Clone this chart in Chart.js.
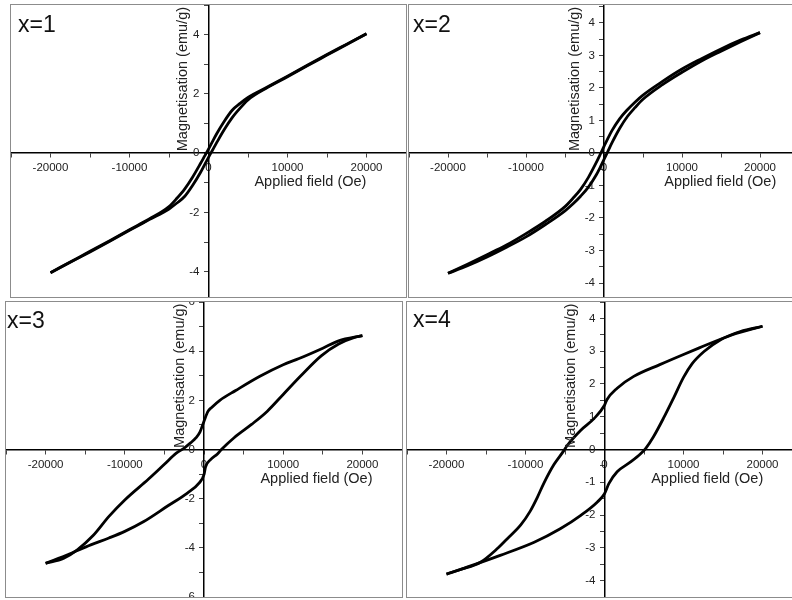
<!DOCTYPE html>
<html>
<head>
<meta charset="utf-8">
<script src="https://cdn.jsdelivr.net/npm/chart.js@4"></script>
<style>
  html, body { margin: 0; padding: 0; background: #fff; }
  body { width: 792px; height: 600px; position: relative; overflow: hidden; }
  .panel { position: absolute; border: 1px solid #8c8c8c; background: #fff; }
  .panel canvas { display: block; }
</style>
</head>
<body>
<div class="panel" style="left:10px;top:4px;"><canvas id="c1" width="395" height="292"></canvas></div>
<div class="panel" style="left:408px;top:4px;"><canvas id="c2" width="390" height="292"></canvas></div>
<div class="panel" style="left:5px;top:301px;"><canvas id="c3" width="396" height="295"></canvas></div>
<div class="panel" style="left:406px;top:301px;"><canvas id="c4" width="395" height="295"></canvas></div>
<script>
// field axis, same for all four loops
const fieldTicks = [-25000, -20000, -15000, -10000, -5000, 0, 5000, 10000, 15000, 20000, 25000];
const fieldLabels = [-20000, -10000, 0, 10000, 20000];

// x=1
const h1Down = [20000, 17500, 15000, 12500, 10000, 7500, 5000, 4000, 3000, 2000, 1000, 500, 0, -500, -1000, -2000, -3000, -4000, -5000, -7500, -10000, -12500, -15000, -17500, -20000];
const m1Down = [4.03, 3.68, 3.33, 2.97, 2.6, 2.24, 1.88, 1.68, 1.45, 1.08, 0.64, 0.39, 0.14, -0.1, -0.34, -0.8, -1.2, -1.52, -1.8, -2.22, -2.58, -2.95, -3.31, -3.67, -4.03];
const h1Up = [-20000, -17500, -15000, -12500, -10000, -7500, -5000, -4000, -3000, -2000, -1000, -500, 0, 500, 1000, 2000, 3000, 4000, 5000, 7500, 10000, 12500, 15000, 17500, 20000];
const m1Up = [-4.03, -3.68, -3.33, -2.97, -2.6, -2.24, -1.88, -1.68, -1.45, -1.08, -0.64, -0.39, -0.14, 0.1, 0.34, 0.8, 1.2, 1.52, 1.8, 2.22, 2.58, 2.95, 3.31, 3.67, 4.03];
const m1Ticks = [-4, -3, -2, -1, 0, 1, 2, 3, 4, 5];
const m1Labels = [-4, -2, 0, 2, 4];

// x=2
const h2Down = [20000, 17500, 15000, 12500, 10000, 7500, 5000, 4000, 3000, 2000, 1000, 500, 0, -500, -1000, -2000, -3000, -4000, -5000, -7500, -10000, -12500, -15000, -17500, -20000];
const m2Down = [3.7, 3.47, 3.2, 2.9, 2.58, 2.2, 1.78, 1.57, 1.33, 1.05, 0.68, 0.45, 0.2, -0.05, -0.3, -0.75, -1.12, -1.4, -1.65, -2.1, -2.48, -2.83, -3.13, -3.42, -3.7];
const h2Up = [-20000, -17500, -15000, -12500, -10000, -7500, -5000, -4000, -3000, -2000, -1000, -500, 0, 500, 1000, 2000, 3000, 4000, 5000, 7500, 10000, 12500, 15000, 17500, 20000];
const m2Up = [-3.7, -3.47, -3.2, -2.9, -2.58, -2.2, -1.78, -1.57, -1.33, -1.05, -0.68, -0.45, -0.2, 0.05, 0.3, 0.75, 1.12, 1.4, 1.65, 2.1, 2.48, 2.83, 3.13, 3.42, 3.7];
const m2Ticks = [-4, -3.5, -3, -2.5, -2, -1.5, -1, -0.5, 0, 0.5, 1, 1.5, 2, 2.5, 3, 3.5, 4, 4.5];
const m2Labels = [-4, -3, -2, -1, 0, 1, 2, 3, 4];

// x=3
const h3Down = [20000, 17000, 15000, 12000, 10000, 7000, 4000, 2000, 1000, 500, 0, -500, -1000, -1700, -2500, -3500, -5000, -7000, -10000, -12000, -14000, -16000, -17700, -20000];
const m3Down = [4.63, 4.42, 4.12, 3.7, 3.45, 2.97, 2.4, 2.0, 1.72, 1.55, 1.15, 0.72, 0.48, 0.27, 0.06, -0.15, -0.6, -1.2, -2.05, -2.72, -3.5, -4.08, -4.42, -4.63];
const h3Up = [-20000, -17000, -14300, -12000, -10000, -7600, -4600, -2100, -600, 0, 200, 800, 1700, 2200, 3800, 6000, 8000, 10000, 12200, 14800, 17000, 19000, 20000];
const m3Up = [-4.63, -4.25, -3.88, -3.6, -3.33, -2.93, -2.3, -1.77, -1.36, -1.02, -0.7, -0.42, -0.18, 0, 0.48, 1.02, 1.56, 2.24, 2.99, 3.81, 4.29, 4.56, 4.63];
const m3Ticks = [-6, -5, -4, -3, -2, -1, 0, 1, 2, 3, 4, 5, 6];
const m3Labels = [-6, -4, -2, 0, 2, 4, 6];

// x=4
const h4Down = [20000, 16200, 12000, 10000, 7000, 3700, 1600, 300, 0, -1300, -3000, -4700, -5100, -6400, -7700, -8500, -9400, -10600, -12300, -13600, -15700, -18200, -20000];
const m4Down = [3.76, 3.5, 3.1, 2.9, 2.59, 2.23, 1.87, 1.52, 1.35, 0.95, 0.59, 0.13, -0.02, -0.46, -1.04, -1.46, -1.88, -2.3, -2.72, -3.03, -3.44, -3.66, -3.8];
const h4Up = [-20000, -17400, -13200, -8900, -5600, -3000, -900, 0, 550, 1600, 3300, 4600, 5200, 6200, 7500, 8800, 10000, 11100, 12600, 14700, 17200, 20000];
const m4Up = [-3.8, -3.59, -3.23, -2.83, -2.42, -2.01, -1.6, -1.35, -1.04, -0.68, -0.38, -0.12, 0.03, 0.39, 0.97, 1.6, 2.2, 2.62, 2.99, 3.35, 3.6, 3.76];
const m4Ticks = [-4.5, -4, -3.5, -3, -2.5, -2, -1.5, -1, -0.5, 0, 0.5, 1, 1.5, 2, 2.5, 3, 3.5, 4, 4.5];
const m4Labels = [-4, -3, -2, -1, 0, 1, 2, 3, 4];

const FONT = '"Liberation Sans", Arial, sans-serif';

function pts(h, m) {
  return h.map((v, i) => ({x: v, y: m[i]}));
}

function noPad(s) {
  s.paddingLeft = 0; s.paddingRight = 0; s.paddingTop = 0; s.paddingBottom = 0;
}

// axis titles and the x=N label sit inside the plot, so draw them here
const titles = {
  id: 'titles',
  afterDraw(chart, args, o) {
    const {ctx, chartArea} = chart;
    const x0 = chart.scales.x.getPixelForValue(0);
    const y0 = chart.scales.y.getPixelForValue(0);
    ctx.save();
    ctx.fillStyle = '#222';
    ctx.font = '14.5px ' + FONT;
    ctx.textAlign = 'center';
    ctx.textBaseline = 'middle';
    ctx.fillText('Applied field (Oe)', chart.scales.x.getPixelForValue(o.xTitleAt), y0 + 29);
    ctx.translate(x0 - o.yTitleGap, (chartArea.top + y0) / 2);
    ctx.rotate(-Math.PI / 2);
    ctx.fillText('Magnetisation (emu/g)', 0, 0);
    ctx.restore();
    ctx.save();
    ctx.fillStyle = '#111';
    ctx.font = '23px ' + FONT;
    ctx.textAlign = 'left';
    ctx.textBaseline = 'alphabetic';
    ctx.fillText(o.label, chartArea.left + o.labelDx, chartArea.top + o.labelDy);
    ctx.restore();
  }
};

function makeChart(id, c) {
  const line = {borderColor: '#000', borderWidth: 2.8, pointRadius: 0, showLine: true, fill: false,
    cubicInterpolationMode: 'monotone'};
  return new Chart(document.getElementById(id), {
    type: 'scatter',
    data: {
      datasets: [
        Object.assign({data: pts(c.hDown, c.mDown)}, line),
        Object.assign({data: pts(c.hUp, c.mUp)}, line)
      ]
    },
    options: {
      responsive: false,
      animation: false,
      devicePixelRatio: 1,
      layout: {padding: 0},
      plugins: {
        legend: {display: false},
        tooltip: {enabled: false},
        titles: {label: c.label, labelDx: c.labelDx, labelDy: c.labelDy, yTitleGap: c.yTitleGap, xTitleAt: c.xTitleAt}
      },
      scales: {
        x: {
          type: 'linear', min: -25000, max: 25000,
          position: {y: 0},
          afterBuildTicks: s => { s.ticks = fieldTicks.map(v => ({value: v})); },
          afterFit: noPad,
          grid: {drawOnChartArea: false, drawTicks: true, tickLength: 4, color: '#444', lineWidth: 1},
          border: {display: true, color: '#000', width: 1.5},
          ticks: {autoSkip: false, maxRotation: 0, padding: 4, color: '#222', font: {family: FONT, size: 11.5},
            callback: v => fieldLabels.includes(v) ? String(v) : ''}
        },
        y: {
          type: 'linear', min: c.yMin, max: c.yMax,
          position: 'center',
          afterBuildTicks: s => { s.ticks = c.yTicks.map(v => ({value: v})); },
          afterFit: noPad,
          grid: {drawOnChartArea: false, drawTicks: true, tickLength: 4, color: '#444', lineWidth: 1},
          border: {display: true, color: '#000', width: 1.5},
          ticks: {autoSkip: false, padding: 5, color: '#222', font: {family: FONT, size: 11.5},
            callback: v => c.yLabels.includes(v) ? String(v) : ''}
        }
      }
    },
    plugins: [titles]
  });
}

makeChart('c1', {hDown: h1Down, mDown: m1Down, hUp: h1Up, mUp: m1Up, yMin: -4.85, yMax: 5,
  yTicks: m1Ticks, yLabels: m1Labels, label: 'x=1', labelDx: 7, labelDy: 27, yTitleGap: 26, xTitleAt: 12900});
makeChart('c2', {hDown: h2Down, mDown: m2Down, hUp: h2Up, mUp: m2Up, yMin: -4.43, yMax: 4.55,
  yTicks: m2Ticks, yLabels: m2Labels, label: 'x=2', labelDx: 4, labelDy: 27, yTitleGap: 29, xTitleAt: 14900});
makeChart('c3', {hDown: h3Down, mDown: m3Down, hUp: h3Up, mUp: m3Up, yMin: -6, yMax: 6,
  yTicks: m3Ticks, yLabels: m3Labels, label: 'x=3', labelDx: 1, labelDy: 26, yTitleGap: 24, xTitleAt: 14200});
makeChart('c4', {hDown: h4Down, mDown: m4Down, hUp: h4Up, mUp: m4Up, yMin: -4.5, yMax: 4.5,
  yTicks: m4Ticks, yLabels: m4Labels, label: 'x=4', labelDx: 6, labelDy: 25, yTitleGap: 34, xTitleAt: 13000});
</script>
</body>
</html>
